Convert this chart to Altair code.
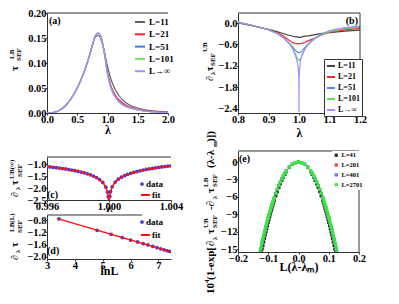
import altair as alt
import pandas as pd

FONT = "Liberation Serif"
ONE = alt.Data(values=[{"k": 0}])

# ---------------- panel (a) ----------------
lam_a = [0.0, 0.1, 0.2, 0.3, 0.4, 0.5, 0.6, 0.65, 0.7, 0.75, 0.8, 0.85, 0.9,
         0.95, 1.0, 1.05, 1.1, 1.15, 1.2, 1.3, 1.4, 1.5, 1.6, 1.8, 2.0]
tau_a_L11 = [0, 0.001, 0.005, 0.014, 0.029, 0.050, 0.078, 0.095, 0.114, 0.136, 0.152, 0.155, 0.144,
             0.121, 0.093, 0.070, 0.054, 0.042, 0.033, 0.021, 0.014, 0.010, 0.007, 0.004, 0.002]
tau_a_L21 = [0, 0.001, 0.005, 0.014, 0.029, 0.050, 0.078, 0.095, 0.114, 0.135, 0.154, 0.159, 0.149,
             0.121, 0.082, 0.057, 0.042, 0.032, 0.025, 0.016, 0.011, 0.007, 0.005, 0.003, 0.002]
tau_a_L51 = [0, 0.001, 0.005, 0.014, 0.029, 0.050, 0.078, 0.095, 0.114, 0.135, 0.155, 0.160, 0.148,
             0.119, 0.079, 0.054, 0.039, 0.029, 0.022, 0.014, 0.009, 0.006, 0.004, 0.002, 0.001]
tau_a_L101 = [0, 0.001, 0.005, 0.014, 0.029, 0.050, 0.078, 0.095, 0.114, 0.135, 0.155, 0.160, 0.148,
              0.118, 0.078, 0.053, 0.038, 0.028, 0.021, 0.013, 0.009, 0.006, 0.004, 0.002, 0.001]
tau_a_Linf = [0, 0.001, 0.005, 0.014, 0.029, 0.050, 0.078, 0.095, 0.114, 0.135, 0.155, 0.161, 0.148,
              0.117, 0.077, 0.052, 0.037, 0.028, 0.021, 0.013, 0.009, 0.006, 0.004, 0.002, 0.001]
labels_a = ["L=11", "L=21", "L=51", "L=101", "L→∞"]
colors_a = ["#606060", "#ff2035", "#3a7bff", "#77dd66", "#aa8cff"]

# ---------------- panel (b) ----------------
lam_b = [0.80, 0.85, 0.90, 0.93, 0.95, 0.97, 0.98, 0.99, 0.995, 1.0, 1.005, 1.01,
         1.02, 1.03, 1.05, 1.07, 1.10, 1.15, 1.20]
dtau_b_L11 = [0.00, -0.08, -0.18, -0.25, -0.30, -0.35, -0.37, -0.39, -0.39, -0.40, -0.40, -0.39,
              -0.37, -0.36, -0.33, -0.30, -0.27, -0.23, -0.20]
dtau_b_L21 = [0.02, -0.08, -0.19, -0.28, -0.37, -0.50, -0.55, -0.58, -0.58, -0.58, -0.58, -0.57,
              -0.54, -0.50, -0.43, -0.35, -0.26, -0.19, -0.15]
dtau_b_L51 = [0.02, -0.07, -0.19, -0.30, -0.42, -0.58, -0.68, -0.78, -0.82, -0.83, -0.82, -0.78,
              -0.68, -0.58, -0.44, -0.34, -0.24, -0.16, -0.11]
dtau_b_L101 = [0.02, -0.07, -0.19, -0.30, -0.42, -0.60, -0.72, -0.90, -1.00, -1.05, -1.00, -0.90,
               -0.72, -0.60, -0.45, -0.34, -0.24, -0.16, -0.11]
lam_b_inf = [0.80, 0.85, 0.90, 0.93, 0.95, 0.97, 0.98, 0.99, 0.995, 0.998, 0.999, 0.9995, 0.9999,
             1.0, 1.0001, 1.0005, 1.001, 1.002, 1.005, 1.01, 1.02, 1.03, 1.05, 1.07, 1.10, 1.15, 1.20]
dtau_b_Linf = [0.03, -0.07, -0.19, -0.30, -0.42, -0.60, -0.74, -0.95, -1.12, -1.30, -1.45, -1.65, -2.10,
               -2.50, -2.10, -1.65, -1.45, -1.28, -1.05, -0.90, -0.72, -0.60, -0.44, -0.32, -0.21, -0.13, -0.09]
labels_b = ["L=11", "L=21", "L=51", "L=101", "L→∞"]
colors_b = ["#444444", "#ff2035", "#4a86ff", "#55dd55", "#a98cff"]

# ---------------- panel (c) ----------------
lam_c = [0.9960, 0.9962, 0.9964, 0.9966, 0.9968, 0.9970, 0.9972, 0.9974, 0.9976, 0.9978, 0.9980,
         0.9982, 0.9984, 0.9986, 0.9988, 0.9990, 0.9992, 0.9994, 0.9996, 0.9998, 0.9999, 0.99995,
         1.00005, 1.0001, 1.0002, 1.0004, 1.0006, 1.0008, 1.0010, 1.0012, 1.0014, 1.0016, 1.0018,
         1.0020, 1.0022, 1.0024, 1.0026, 1.0028, 1.0030, 1.0032, 1.0034, 1.0036, 1.0038, 1.0040]
dtau_c = [-1.099, -1.114, -1.130, -1.146, -1.164, -1.182, -1.202, -1.224, -1.247, -1.272, -1.300,
          -1.330, -1.364, -1.403, -1.447, -1.500, -1.564, -1.648, -1.765, -1.965, -2.165, -2.366,
          -2.350, -2.150, -1.950, -1.750, -1.630, -1.545, -1.480, -1.427, -1.383, -1.343, -1.308,
          -1.277, -1.249, -1.223, -1.199, -1.177, -1.156, -1.137, -1.118, -1.101, -1.085, -1.069]
lam_c_fit = [0.9960, 0.9964, 0.9968, 0.9972, 0.9976, 0.9980, 0.9984, 0.9988, 0.9992, 0.9996,
             0.9998, 0.9999, 0.99995, 1.0, 1.00005, 1.0001, 1.0002, 1.0004, 1.0008, 1.0012,
             1.0016, 1.0020, 1.0024, 1.0028, 1.0032, 1.0036, 1.0040]
fit_c = [-1.099, -1.130, -1.164, -1.202, -1.247, -1.300, -1.364, -1.447, -1.564, -1.765,
         -1.965, -2.165, -2.366, -2.700, -2.350, -2.150, -1.950, -1.750, -1.545, -1.427,
         -1.343, -1.277, -1.223, -1.177, -1.137, -1.101, -1.069]

# ---------------- panel (d) ----------------
lnL_d = [3.43, 4.80, 5.30, 5.70, 6.00, 6.25, 6.45, 6.62, 6.80, 6.95, 7.08, 7.20, 7.31, 7.40]
dtau_d = [-0.76, -1.13, -1.26, -1.37, -1.45, -1.51, -1.57, -1.61, -1.66, -1.70, -1.735, -1.77, -1.80, -1.82]
lnL_d_fit = [3.35, 7.45]
fit_d = [-0.74, -1.835]

# ---------------- panel (e) ----------------
xe_half = [0, 0.01, 0.02, 0.03, 0.04, 0.045, 0.05, 0.055, 0.06, 0.065, 0.07, 0.075, 0.08, 0.0825,
           0.085, 0.0875, 0.09, 0.0925, 0.095, 0.0975, 0.1, 0.1025, 0.105, 0.1075, 0.11, 0.1125,
           0.115, 0.1175, 0.12, 0.1225, 0.125, 0.1275]
ye_L41 = [0, -0.10, -0.42, -0.94, -1.66, -2.11, -2.60, -3.15, -3.74, -4.39, -5.10, -5.85, -6.66, -7.08,
          -7.51, -7.96, -8.42, -8.90, -9.39, -9.89, -10.40, -10.93, -11.47, -12.02, -12.58, -13.16,
          -13.75, -14.36, -14.98, -15.61, -16.25, -16.91]
ye_L201 = [0, -0.10, -0.39, -0.88, -1.56, -1.97, -2.44, -2.95, -3.51, -4.12, -4.78, -5.48, -6.24, -6.64,
           -7.04, -7.46, -7.90, -8.34, -8.80, -9.27, -9.75, -10.24, -10.75, -11.27, -11.80, -12.34,
           -12.89, -13.46, -14.04, -14.63, -15.23, -15.85]
ye_L401 = [0, -0.10, -0.39, -0.87, -1.54, -1.95, -2.41, -2.92, -3.47, -4.08, -4.73, -5.43, -6.18, -6.57,
           -6.97, -7.39, -7.82, -8.26, -8.71, -9.17, -9.65, -10.14, -10.64, -11.15, -11.68, -12.21,
           -12.76, -13.32, -13.90, -14.48, -15.08, -15.69]
ye_L2701 = [0, -0.10, -0.38, -0.86, -1.53, -1.93, -2.39, -2.89, -3.44, -4.03, -4.68, -5.37, -6.11, -6.50,
            -6.90, -7.31, -7.74, -8.17, -8.62, -9.08, -9.55, -10.03, -10.53, -11.04, -11.56, -12.09,
            -12.63, -13.18, -13.75, -14.33, -14.92, -15.52]
labels_e = ["L=41", "L=201", "L=401", "L=2701"]
colors_e = ["#222222", "#ff3344", "#4477ff", "#33ee33"]


# ---------------- helpers ----------------
def txt(text, x, y, size=10, angle=None, align="left", color="black"):
    kw = dict(text=text, align=align, baseline="middle", font=FONT, fontWeight="bold",
              fontSize=size, color=color)
    if angle is not None:
        kw["angle"] = angle
    return alt.Chart(ONE).mark_text(**kw).encode(x=alt.value(x), y=alt.value(y))


def vtitle(chunks):
    return [txt(t, x, y, s, angle=270) for t, x, y, s in chunks]


def hrule(x1, x2, y, color="#333333", width=1):
    return alt.Chart(ONE).mark_rule(color=color, strokeWidth=width).encode(
        x=alt.value(x1), x2=alt.value(x2), y=alt.value(y))


def vrule(x, y1, y2, color="#333333"):
    return alt.Chart(ONE).mark_rule(color=color, strokeWidth=1).encode(
        x=alt.value(x), y=alt.value(y1), y2=alt.value(y2))


def long_df(xs_list, ys_list, labels):
    rows = []
    for xs, ys, lab in zip(xs_list, ys_list, labels):
        for x, y in zip(xs, ys):
            rows.append({"x": x, "y": y, "s": lab})
    return pd.DataFrame(rows)


def xaxis(values, fmt, title, title_y):
    return alt.Axis(values=values, format=fmt, title=title, titleY=title_y, titleBaseline="middle",
                    labelFlush=False, labelOverlap=False)


def yaxis(values, fmt):
    return alt.Axis(values=values, format=fmt, title=None, labelOverlap=False)


# ---------------- panel (a) chart ----------------
WA, HA = 121, 100
df_a = long_df([lam_a] * 5, [tau_a_L11, tau_a_L21, tau_a_L51, tau_a_L101, tau_a_Linf], labels_a)
lines_a = alt.Chart(df_a).mark_line(strokeWidth=1.2, interpolate="monotone", clip=True).encode(
    x=alt.X("x:Q", scale=alt.Scale(domain=[0, 2], nice=False, zero=False),
            axis=xaxis([0, 0.5, 1.0, 1.5, 2.0], ".1f", "λ", 16)),
    y=alt.Y("y:Q", scale=alt.Scale(domain=[0, 0.2], nice=False),
            axis=yaxis([0, 0.05, 0.1, 0.15, 0.2], ".2f")),
    color=alt.Color("s:N", scale=alt.Scale(domain=labels_a, range=colors_a),
                    legend=alt.Legend(orient="none", legendX=85, legendY=1, title=None,
                                      fillColor="white", padding=2, symbolType="stroke",
                                      symbolSize=100, symbolStrokeWidth=2, labelFontSize=9,
                                      rowPadding=1.3, labelOffset=3)),
)
panel_a = alt.layer(
    hrule(0, WA, 0), lines_a, txt("(a)", 2, 8, 10),
    *vtitle([("τ", -32, 58, 11), ("LB", -35, 46, 7), ("SEF", -28, 48, 7)]),
).properties(width=WA, height=HA)

# ---------------- panel (b) chart ----------------
WB, HB = 122, 100
df_b = long_df([lam_b] * 4 + [lam_b_inf],
               [dtau_b_L11, dtau_b_L21, dtau_b_L51, dtau_b_L101, dtau_b_Linf], labels_b)
lines_b = alt.Chart(df_b).mark_line(strokeWidth=1.2, clip=True).encode(
    x=alt.X("x:Q", scale=alt.Scale(domain=[0.8, 1.2], nice=False, zero=False),
            axis=xaxis([0.8, 0.9, 1.0, 1.1, 1.2], ".1f", "λ", 19)),
    y=alt.Y("y:Q", scale=alt.Scale(domain=[-2.52, 0.28], nice=False, zero=False),
            axis=yaxis([0, -0.6, -1.2, -1.8, -2.4], ".1f")),
    color=alt.Color("s:N", scale=alt.Scale(domain=labels_b, range=colors_b),
                    legend=alt.Legend(orient="none", legendX=86, legendY=46, title=None,
                                      fillColor="white", strokeColor="#333333", padding=2,
                                      symbolType="stroke", symbolSize=64, symbolStrokeWidth=2,
                                      labelFontSize=8, rowPadding=2, labelOffset=2)),
)
panel_b = alt.layer(
    lines_b, hrule(0, WB, 0), vrule(WB, 0, HB), txt("(b)", 120, 8, 10, align="right"),
    *vtitle([("∂", -28, 68, 10), ("λ", -25, 62, 7), ("τ", -28, 58, 10),
             ("SEF", -25, 53, 7), ("UB", -33, 39, 7)]),
).properties(width=WB, height=HB)

# ---------------- panel (c) chart ----------------
WC, HC = 124, 43
xc = alt.X("x:Q", scale=alt.Scale(domain=[0.996, 1.004], nice=False, zero=False),
           axis=xaxis([0.996, 1.0, 1.004], ".3f", "λ", 7))
yc = alt.Y("y:Q", scale=alt.Scale(domain=[-2.5, -0.7], nice=False, zero=False),
           axis=yaxis([-1.0, -1.5, -2.0, -2.5], ".1f"))
pts_c = alt.Chart(pd.DataFrame({"x": lam_c, "y": dtau_c})).mark_point(
    filled=True, size=14, color="#3a3ae0", opacity=1, clip=True).encode(x=xc, y=yc)
fit_c_line = alt.Chart(pd.DataFrame({"x": lam_c_fit, "y": fit_c})).mark_line(
    color="#ff1111", strokeWidth=1.5, clip=True).encode(x=xc, y=yc)
panel_c = alt.layer(
    hrule(0, WC, 0), pts_c, fit_c_line,
    alt.Chart(ONE).mark_point(filled=True, size=14, color="#3a3ae0", opacity=1).encode(
        x=alt.value(95), y=alt.value(27)),
    txt("data", 99, 27, 9),
    hrule(94, 103, 38, color="#ff1111", width=2),
    txt("fit", 105, 38, 9),
    txt("(c)", 0, 38, 10),
    *vtitle([("∂", -32, 40, 10), ("λ", -29, 33, 7), ("τ", -32, 28, 10),
             ("SEF", -27, 20, 7), ("UB(∞)", -35, 22, 7)]),
).properties(width=WC, height=HC)

# ---------------- panel (d) chart ----------------
WD, HD = 124, 44
xd = alt.X("x:Q", scale=alt.Scale(domain=[3, 7.45], nice=False, zero=False),
           axis=xaxis([3, 4, 5, 6, 7], "d", "lnL", 11))
yd = alt.Y("y:Q", scale=alt.Scale(domain=[-2.07, -0.63], nice=False, zero=False),
           axis=yaxis([-0.8, -1.2, -1.6, -2.0], ".1f"))
pts_d = alt.Chart(pd.DataFrame({"x": lnL_d, "y": dtau_d})).mark_point(
    filled=True, size=14, color="#3a3ae0", opacity=1, clip=True).encode(x=xd, y=yd)
fit_d_line = alt.Chart(pd.DataFrame({"x": lnL_d_fit, "y": fit_d})).mark_line(
    color="#ff1111", strokeWidth=1.5, clip=True).encode(x=xd, y=yd)
panel_d = alt.layer(
    hrule(0, 95, 0), pts_d, fit_d_line,
    alt.Chart(ONE).mark_point(filled=True, size=14, color="#3a3ae0", opacity=1).encode(
        x=alt.value(95), y=alt.value(7)),
    txt("data", 99, 7, 9),
    hrule(94, 103, 20, color="#ff1111", width=2),
    txt("fit", 105, 20, 9),
    txt("(d)", 0, 36, 10),
    *vtitle([("∂", -32, 45, 10), ("λ", -29, 38, 7), ("τ", -32, 32, 10),
             ("SEF", -27, 18, 7), ("LB(L)", -35, 17, 7)]),
).properties(width=WD, height=HD)

# ---------------- panel (e) chart ----------------
WE, HE = 121, 101
xs_full = [-v for v in reversed(xe_half[1:])] + xe_half
def sym(ys):
    return list(reversed(ys[1:])) + ys
df_e = long_df([xs_full] * 4, [sym(ye_L41), sym(ye_L201), sym(ye_L401), sym(ye_L2701)], labels_e)
pts_e = alt.Chart(df_e).mark_point(shape="square", filled=True, size=10, opacity=1, clip=True).encode(
    x=alt.X("x:Q", scale=alt.Scale(domain=[-0.2, 0.2], nice=False, zero=False),
            axis=xaxis([-0.2, -0.1, 0.0, 0.1, 0.2], ".1f", "L(λ-λₘ)", 14)),
    y=alt.Y("y:Q", scale=alt.Scale(domain=[-15.5, 1.9], nice=False, zero=False),
            axis=yaxis([0, -3, -6, -9, -12, -15], "d")),
    color=alt.Color("s:N", scale=alt.Scale(domain=labels_e, range=colors_e),
                    legend=alt.Legend(orient="none", legendX=94, legendY=0, title=None,
                                      fillColor="white", padding=1, symbolType="square",
                                      symbolSize=10, labelFontSize=6.5, rowPadding=2.8,
                                      labelOffset=2)),
)
panel_e = alt.layer(
    pts_e, hrule(0, WE, 0), vrule(WE, 0, HE), txt("(e)", 1, 8, 10),
    *vtitle([("10", -27, 143, 11), ("4", -31, 132, 7), ("(1-exp[", -27, 129, 11),
             ("∂", -27, 95, 11), ("λ", -23, 89, 7), ("τ", -27, 83, 11),
             ("SEF", -23, 77, 7), ("UB", -32, 77, 7),
             ("-∂", -27, 59, 11), ("λ", -23, 48, 7), ("τ", -27, 42, 11),
             ("SEF", -23, 36, 7), ("LB", -32, 36, 7),
             ("(λ-λ", -27, 17, 11), ("m", -23, -4, 7), (")])", -27, -9, 11)]),
).properties(width=WE, height=HE)

# ---------------- layout ----------------
left = alt.vconcat(
    panel_a,
    alt.vconcat(panel_c, panel_d, spacing=0).resolve_scale(x="independent", y="independent", color="independent"),
    spacing=21,
).resolve_scale(x="independent", y="independent", color="independent")
right = alt.vconcat(panel_b, panel_e, spacing=-7).resolve_scale(
    x="independent", y="independent", color="independent")

chart = alt.hconcat(left, right, spacing=18).resolve_scale(
    x="independent", y="independent", color="independent"
).properties(
    padding={"left": 0, "top": 0, "right": 0, "bottom": 0}, background="white"
).configure_view(stroke=None).configure_axis(
    labelFont=FONT, labelFontWeight="bold", labelFontSize=10.5, labelColor="black",
    titleFont=FONT, titleFontWeight="bold", titleFontSize=12, titleColor="black",
    domainColor="#333333", tickColor="#333333", tickSize=2, labelPadding=-1, grid=False,
).configure_legend(
    labelFont=FONT, labelFontWeight="bold", labelColor="black",
)

chart.save("out.html", embed_options={"renderer": "svg", "actions": False})
